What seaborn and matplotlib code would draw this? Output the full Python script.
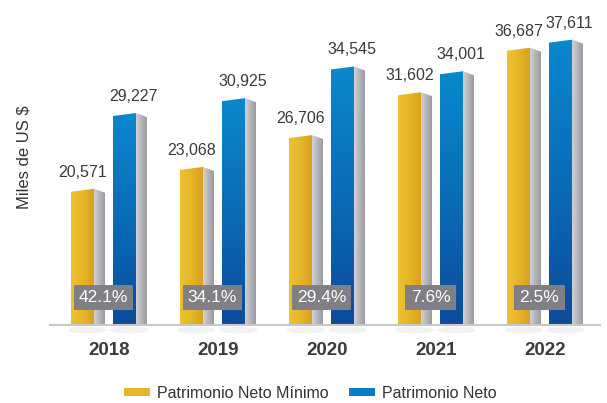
import numpy as np
import pandas as pd
import matplotlib
matplotlib.use("Agg")
import matplotlib.pyplot as plt
import seaborn as sns
from matplotlib.patches import Polygon, Patch, Ellipse
from matplotlib.colors import LinearSegmentedColormap
import matplotlib.transforms as mtransforms

# ---- data ----
years = ["2018", "2019", "2020", "2021", "2022"]
minimo = [20571, 23068, 26706, 31602, 36687]
neto = [29227, 30925, 34545, 34001, 37611]
pct = ["42.1%", "34.1%", "29.4%", "7.6%", "2.5%"]
series = ["Patrimonio Neto Mínimo", "Patrimonio Neto"]

sns.set_theme(style="white")
plt.rcParams['font.family'] = ['Liberation Sans', 'DejaVu Sans']

df = pd.DataFrame({
    "year": years * 2,
    "serie": [series[0]] * len(years) + [series[1]] * len(years),
    "valor": minimo + neto,
})

W, H = 607, 403
fig = plt.figure(figsize=(W / 100, H / 100), dpi=100)
ax = fig.add_axes([50 / W, (H - 325) / H, 550 / W, 325 / H])

gold, blue = "#E5B62A", "#0A7CC4"
sns.barplot(data=df, x="year", y="valor", hue="serie", order=years,
            hue_order=series, palette=[gold, blue], width=0.77,
            dodge=True, errorbar=None, legend=False, ax=ax)

# scales
PX = 109.0                      # pixels per category unit
Y0 = 5000.0
A = 0.00875                     # pixels per value unit
YTOP = Y0 + 325 / A
xl = (-53.5 / PX, 496.5 / PX)
ux = 1 / PX                     # data-x per pixel
uy = 1 / A                      # data-y per pixel

cm_gold = LinearSegmentedColormap.from_list("g", ["#ECC22F", "#E6B628", "#D9A11E"])
cm_blue = LinearSegmentedColormap.from_list("b", ["#0B4B9C", "#0A6CB8", "#0B87CD"])
cm_side = LinearSegmentedColormap.from_list("s", ["#D2D2D6", "#B4B5BA", "#9A9BA1"])
hgrad = np.linspace(0, 1, 64).reshape(1, -1)
vgrad = np.linspace(0, 1, 64).reshape(-1, 1)

bw = 23 * ux
side = 11 * ux
for p in list(ax.patches):
    cx = p.get_x() + p.get_width() / 2
    top = p.get_height()
    is_gold = cx < round(cx)
    p.set_visible(False)
    x0, x1 = cx - bw / 2, cx + bw / 2
    # soft floor shadow (below the baseline)
    sh = Ellipse((cx + 5 * ux, Y0 - 5 * uy), width=38 * ux, height=7 * uy,
                 facecolor="#EDEDED", edgecolor="none", alpha=0.7, zorder=1,
                 clip_on=False)
    ax.add_patch(sh)
    # front face with slightly slanted top
    front = Polygon([(x0, Y0), (x0, top - 3 * uy), (x1, top), (x1, Y0)],
                    closed=True, facecolor="none", edgecolor="none")
    ax.add_patch(front)
    if is_gold:
        im = ax.imshow(hgrad, extent=(x0, x1, Y0, top), aspect="auto",
                       cmap=cm_gold, origin="lower", zorder=3, interpolation="bicubic")
    else:
        im = ax.imshow(vgrad, extent=(x0, x1, Y0, top), aspect="auto",
                       cmap=cm_blue, origin="lower", zorder=3, interpolation="bicubic")
    im.set_clip_path(front)
    # side face
    sface = Polygon([(x1, Y0), (x1, top), (x1 + side, top - 4 * uy), (x1 + side, Y0)],
                    closed=True, facecolor="none", edgecolor="none")
    ax.add_patch(sface)
    ims = ax.imshow(hgrad, extent=(x1, x1 + side, Y0, top), aspect="auto",
                    cmap=cm_side, origin="lower", zorder=2, interpolation="bicubic")
    ims.set_clip_path(sface)
    # value label
    lx = cx if is_gold else cx + 9 * ux
    ax.text(lx, top + 9 * uy, f"{int(round(top)):,}", ha="center", va="bottom",
            fontsize=11.5, color="#3A3A3A", zorder=5)

# percentage boxes
trans = mtransforms.blended_transform_factory(ax.transData, ax.transAxes)
for i, t in enumerate(pct):
    ax.text(i, 27.5 / 325, t, transform=trans, ha="center", va="center",
            fontsize=12.5, color="white", zorder=6,
            bbox=dict(boxstyle="square,pad=0.3", facecolor="#808084", edgecolor="none"))

ax.set_xlim(*xl)
ax.set_ylim(Y0, YTOP)
ax.set_xticks(np.arange(len(years)) + 5.5 * ux)
ax.set_xticklabels(years, fontsize=13.5, color="#3C3C3C", fontweight="bold")
ax.tick_params(axis="x", length=0, pad=12)
ax.set_yticks([])
ax.set_xlabel("")
ax.set_ylabel("")
for s in ["top", "right", "left"]:
    ax.spines[s].set_visible(False)
ax.spines["bottom"].set_color("#C8C8C8")
ax.spines["bottom"].set_linewidth(1.5)
ax.spines["bottom"].set_zorder(7)

fig.text(24 / W, 1 - 157 / H, "Miles de US $", rotation=90, ha="center", va="center",
         fontsize=12, color="#333333")

handles = [Patch(facecolor=gold, edgecolor="none"), Patch(facecolor=blue, edgecolor="none")]
fig.legend(handles, series, loc="center", bbox_to_anchor=(0.5 + 7 / W, 1 - 393 / H), ncol=2,
           frameon=False, fontsize=11.5, handlelength=1.6, handleheight=0.45,
           columnspacing=1.3, handletextpad=0.45, labelcolor="#333333")

fig.savefig("out.png", dpi=100)
